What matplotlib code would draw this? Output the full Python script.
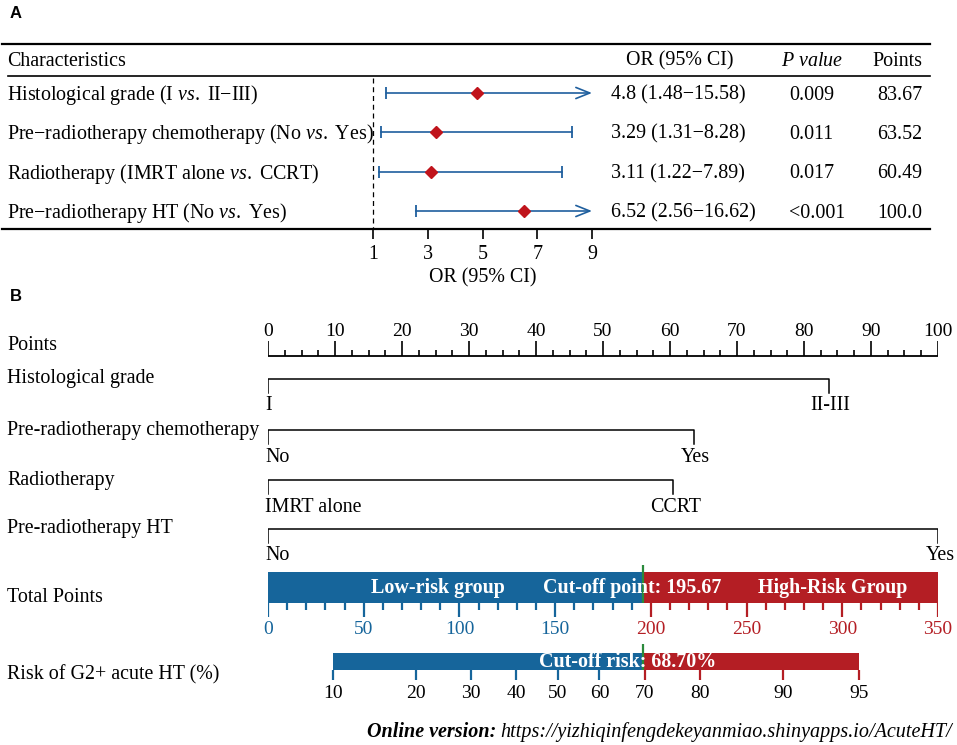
import numpy as np
import matplotlib.pyplot as plt
from matplotlib.transforms import blended_transform_factory as blend

plt.rcParams['font.family'] = ['Liberation Serif', 'DejaVu Serif']
plt.rcParams['mathtext.fontset'] = 'custom'
plt.rcParams['mathtext.rm'] = 'Liberation Serif'
plt.rcParams['mathtext.it'] = 'Liberation Serif:italic'

#--- panel A: logistic regression table ---
row_labels = [r'Histological grade (I $\mathit{vs.}$ II−III)',
              r'Pre−radiotherapy chemotherapy (No $\mathit{vs.}$ Yes)',
              r'Radiotherapy (IMRT alone $\mathit{vs.}$ CCRT)',
              r'Pre−radiotherapy HT (No $\mathit{vs.}$ Yes)']
odds = [4.8, 3.29, 3.11, 6.52]
ci_lo = [1.48, 1.31, 1.22, 2.56]
ci_hi = [15.58, 8.28, 7.89, 16.62]
pvals = ['0.009', '0.011', '0.017', '<0.001']
var_points = [83.67, 63.52, 60.49, 100.0]
or_ticks = [1, 3, 5, 7, 9]

#--- panel B: nomogram ---
var_names = ['Histological grade', 'Pre-radiotherapy chemotherapy',
             'Radiotherapy', 'Pre-radiotherapy HT']
level_lo = ['I', 'No', 'IMRT alone', 'No']
level_hi = ['II-III', 'Yes', 'CCRT', 'Yes']
total_max = 350
cutoff_points = 195.67
cutoff_risk = 68.70
risk_ticks = [10, 20, 30, 40, 50, 60, 70, 80, 90, 95]
b0, b1 = -2.832, 0.0187   # logit(risk) = b0 + b1*total points

W, H = 957, 745
fs = 14.4
blue = '#16659b'; red = '#b41e24'; green = '#2b8a3c'
ci_blue = '#1f5f9e'; dia_red = '#c0141c'

def tp2x(t):
    return np.asarray(t)*100./total_max

def risk2tp(r):
    r = np.asarray(r)/100.
    return (np.log(r/(1-r)) - b0)/b1

fig = plt.figure(figsize=(W/100, H/100), dpi=100)

#--- panel A ---
top, bot = 44, 229
axA = fig.add_axes([0, 1-bot/H, 1, (bot-top)/H])
axA.set_xlim(0, W); axA.set_ylim(bot, top); axA.axis('off')
axA.plot([2, 930], [top, top], color='k', lw=1.6, clip_on=False)
axA.plot([8, 930], [76, 76], color='k', lw=1.2)
axA.plot([2, 930], [bot, bot], color='k', lw=1.6, clip_on=False)
axA.text(7, 61, 'Characteristics', va='center', fontsize=fs)
axA.text(680, 61, 'OR (95% CI)', va='center', ha='center', fontsize=fs)
axA.text(812, 61, r'$\mathit{P\ value}$', va='center', ha='center', fontsize=fs)
axA.text(922, 61, 'Points', va='center', ha='right', fontsize=fs)

row_y = np.linspace(93, 211, len(odds))
for i, y in enumerate(row_y):
    axA.text(7, y+2, row_labels[i], va='center', fontsize=fs)
    axA.text(611, y+2, f'{odds[i]:g} ({ci_lo[i]:g}−{ci_hi[i]:g})', va='center', fontsize=fs)
    axA.text(789, y+2, pvals[i], va='center', fontsize=fs)
    axA.text(922, y+2, str(var_points[i]), va='center', ha='right', fontsize=fs)

axF = fig.add_axes([373/W, 1-bot/H, 219/W, (bot-top)/H])
axF.patch.set_visible(False)
axF.set_xlim(1, 9); axF.set_ylim(bot, top)
for s in axF.spines.values():
    s.set_visible(False)
axF.set_yticks([])
axF.set_xticks(or_ticks)
axF.tick_params(axis='x', direction='out', length=7.5, width=1.2, labelsize=fs, pad=4)
axF.set_xlabel('OR (95% CI)', fontsize=fs, labelpad=3)
axF.plot([1, 1], [78, bot], color='k', lw=0.9, ls=(0, (4, 3)), clip_on=False)
for i, y in enumerate(row_y):
    axF.plot(ci_lo[i], y, marker='|', ms=8, mew=1.3, color=ci_blue)
    if ci_hi[i] > 9:
        axF.annotate('', xy=(9, y), xytext=(ci_lo[i], y),
                     arrowprops=dict(arrowstyle='->,head_length=1.0,head_width=0.4',
                                     color=ci_blue, lw=1.2, shrinkA=0, shrinkB=0))
    else:
        axF.plot([ci_lo[i], ci_hi[i]], [y, y], color=ci_blue, lw=1.2)
        axF.plot(ci_hi[i], y, marker='|', ms=8, mew=1.3, color=ci_blue)
    axF.plot(odds[i], y, marker='D', ms=6, color=dia_red, zorder=5)

fig.text(10/W, 1-13/H, 'A', fontfamily='Liberation Sans', fontweight='bold', fontsize=12, va='center')
fig.text(10/W, 1-297/H, 'B', fontfamily='Liberation Sans', fontweight='bold', fontsize=12, va='center')

#--- panel B ---
b_top = 290
axB = fig.add_axes([268/W, 0, 670/W, (H-b_top)/H])
axB.set_xlim(0, 100); axB.set_ylim(H, b_top); axB.axis('off')
lab = blend(fig.transFigure, axB.transData)

# points scale
axB.plot([0, 100], [356, 356], color='k', lw=1.3, solid_capstyle='butt')
for v in np.arange(0, 100.1, 2.5):
    axB.vlines(v, 356, 356-(15 if v % 10 == 0 else 6), color='k', lw=1.2)
for v in range(0, 101, 10):
    axB.text(v, 331, str(v), ha='center', va='center', fontsize=14)
axB.text(7/W, 345, 'Points', transform=lab, va='center', fontsize=fs)

# variables
var_y = [379, 430, 480, 529]
for name, p, l, h, y in zip(var_names, var_points, level_lo, level_hi, var_y):
    axB.plot([0, 0, p, p], [y+14, y, y, y+14], color='k', lw=1.1)
    axB.text(-0.45, y+27, l, ha='left', va='center', fontsize=fs)
    axB.text(p+0.3, y+27, h, ha='center', va='center', fontsize=fs)
    axB.text(7/W, y, name, transform=lab, va='center', fontsize=fs)

# total points bar
cut_x = tp2x(cutoff_points)
axB.barh(587.5, cut_x, left=0, height=31, color=blue)
axB.barh(587.5, 100-cut_x, left=cut_x, height=31, color=red)
for t in range(0, total_max+1, 10):
    c = blue if t < cutoff_points else red
    axB.vlines(tp2x(t), 603, 603+(14 if t % 50 == 0 else 7), color=c, lw=1.6)
for t in range(0, total_max+1, 50):
    c = blue if t < cutoff_points else red
    axB.text(tp2x(t), 629, str(t), ha='center', va='center', fontsize=14, color=c)
axB.vlines(cut_x, 565, 603, color=green, lw=1.6)
axB.text(tp2x(88.8), 588, 'Low-risk group', color='w', fontweight='bold', ha='center', va='center', fontsize=fs)
axB.text(tp2x(190.5), 588, f'Cut-off point: {cutoff_points}', color='w', fontweight='bold', ha='center', va='center', fontsize=fs)
axB.text(tp2x(295), 588, 'High-Risk Group', color='w', fontweight='bold', ha='center', va='center', fontsize=fs)
axB.text(7/W, 597, 'Total Points', transform=lab, va='center', fontsize=fs)

# risk bar
r_lo = tp2x(risk2tp(risk_ticks[0])); r_hi = tp2x(risk2tp(risk_ticks[-1]))
axB.barh(661.5, cut_x-r_lo, left=r_lo, height=17, color=blue)
axB.barh(661.5, r_hi-cut_x, left=cut_x, height=17, color=red)
for r in risk_ticks:
    x = tp2x(risk2tp(r))
    c = blue if x < cut_x else red
    axB.vlines(x, 670, 680, color=c, lw=1.6)
    axB.text(x, 693, str(r), ha='center', va='center', fontsize=14)
axB.vlines(cut_x, 644, 670, color=green, lw=1.6)
axB.text(tp2x(188), 662, f'Cut-off risk: {cutoff_risk:.2f}%', color='w', fontweight='bold', ha='center', va='center', fontsize=fs)
axB.text(7/W, 675, 'Risk of G2+ acute HT (%)', transform=lab, va='center', fontsize=fs)

# online link, bold-italic lead placed just left of the url
url = fig.text(952/W, 1-732/H, 'https://yizhiqinfengdekeyanmiao.shinyapps.io/AcuteHT/',
               ha='right', va='center', style='italic', fontsize=14.5)
rend = fig.canvas.get_renderer()
bb = url.get_window_extent(rend)
fig.text((bb.x0-4)/W, 1-732/H, 'Online version:', ha='right', va='center',
         style='italic', fontweight='bold', fontsize=14.5)

fig.savefig('out.png', dpi=100)
